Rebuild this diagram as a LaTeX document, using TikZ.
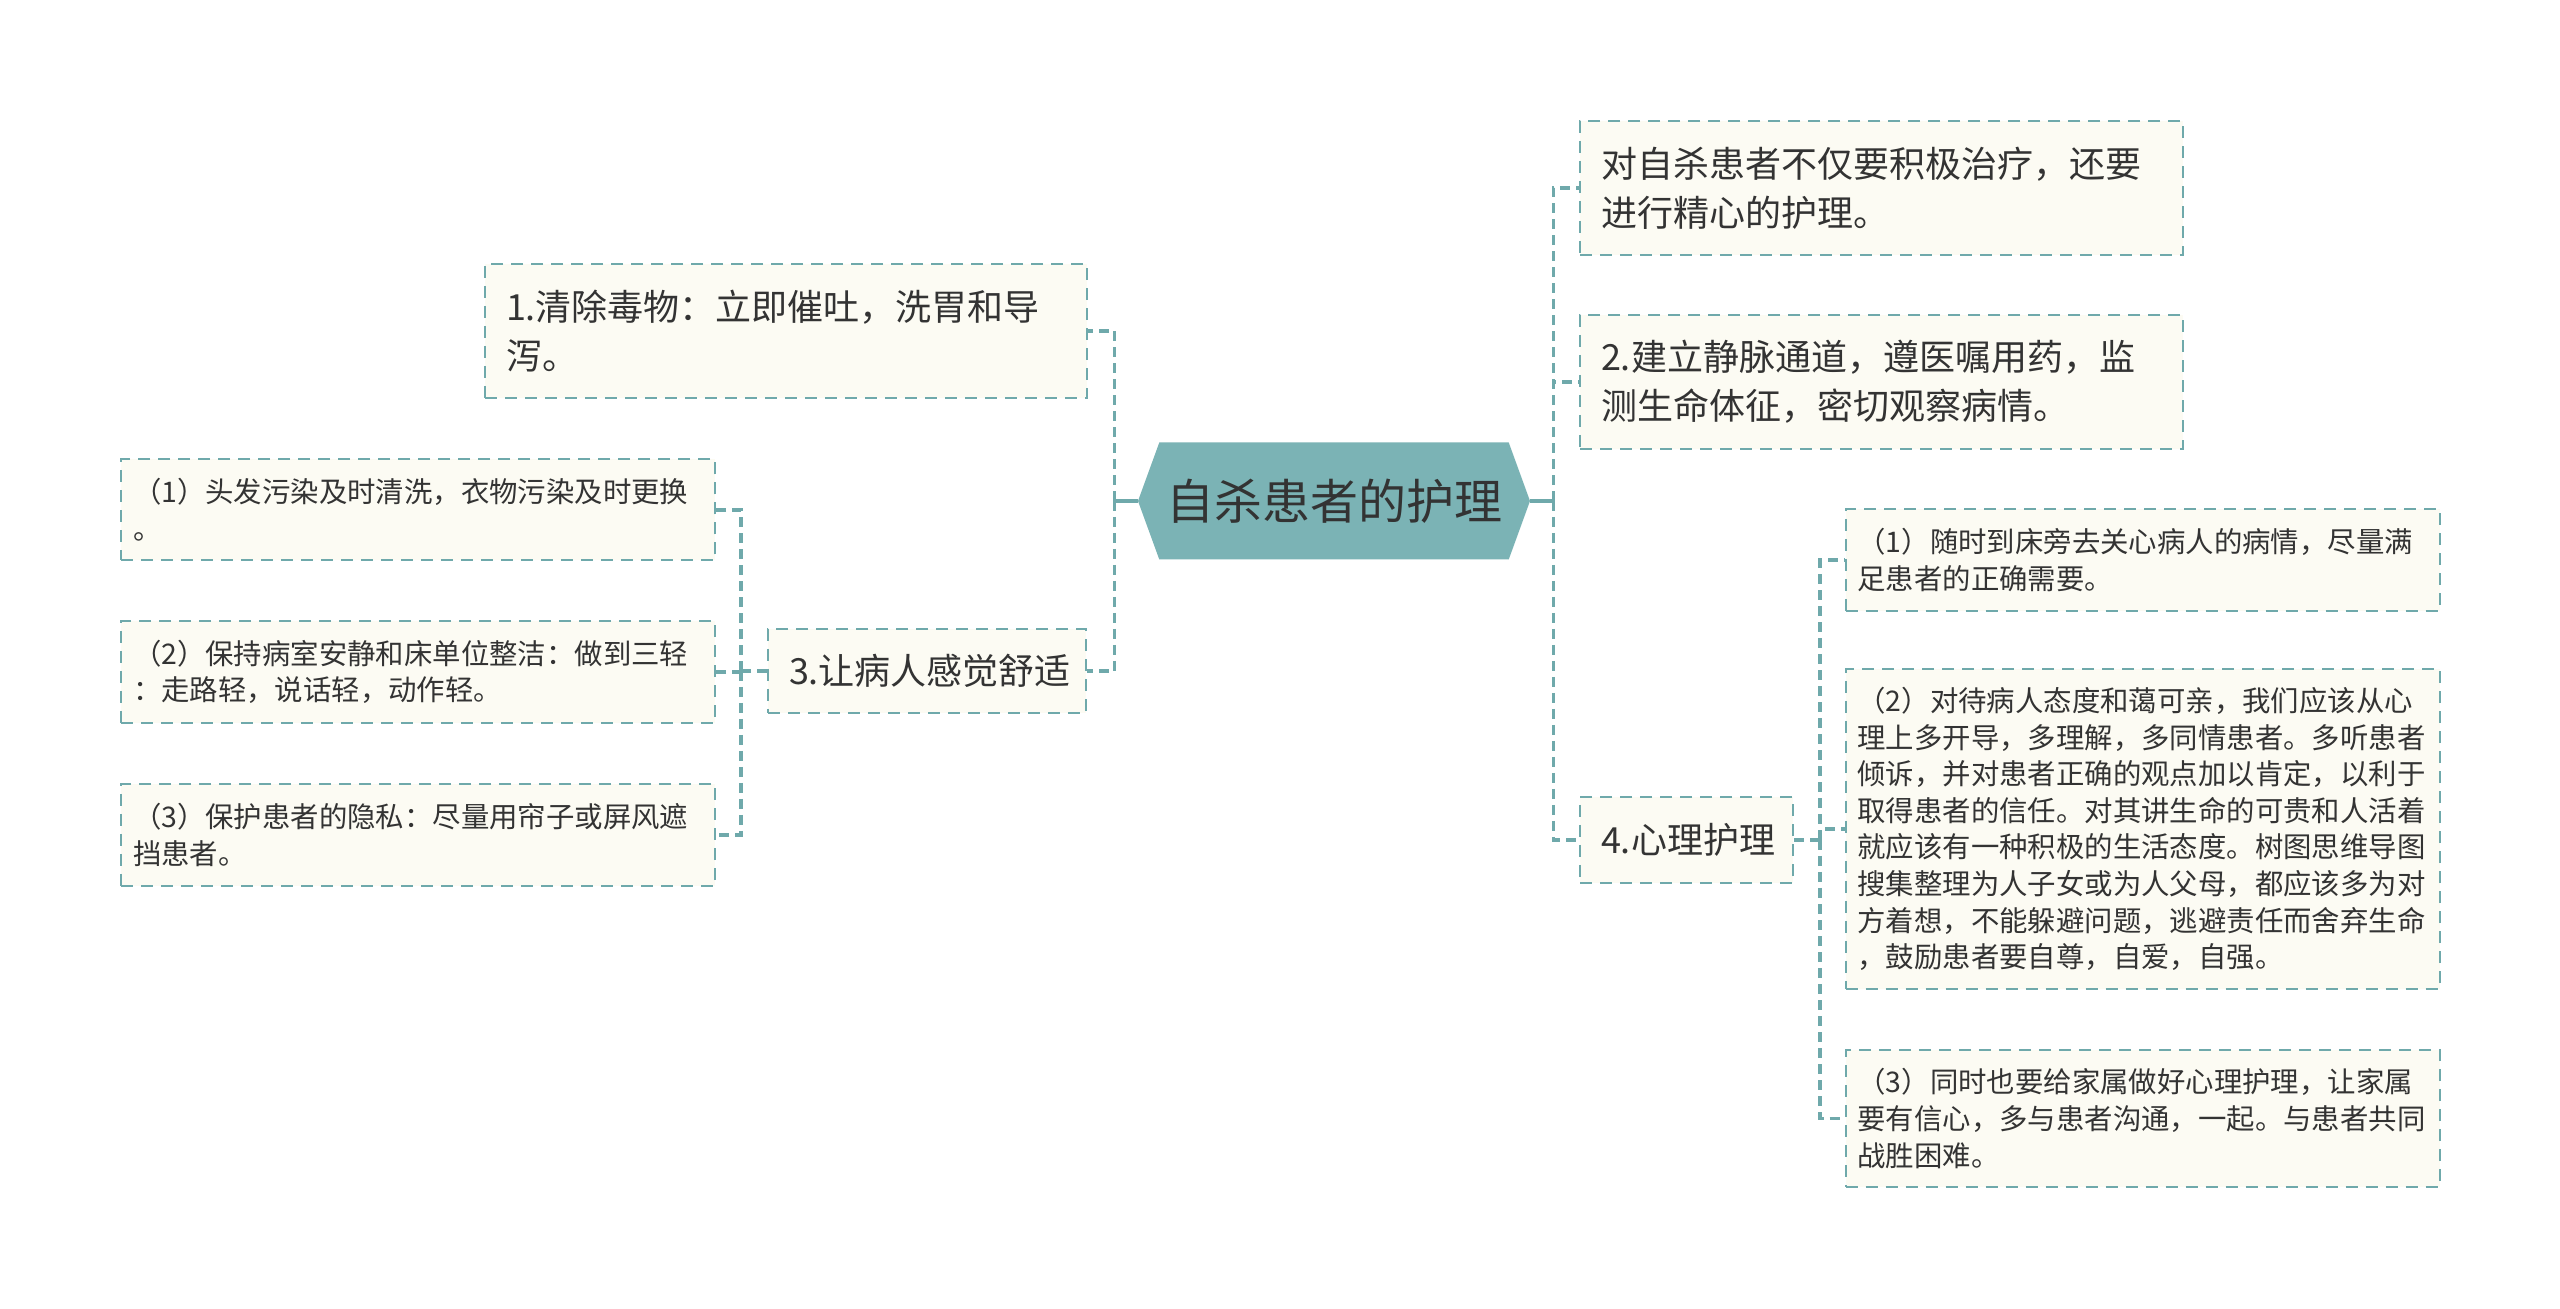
\documentclass[tikz,border=0pt]{standalone}
\usepackage{fontspec}
\setmainfont{Noto Sans CJK SC}
\usetikzlibrary{shapes.symbols}
\definecolor{linecol}{HTML}{6FA9AB}
\definecolor{rootfill}{HTML}{7BB3B5}
\definecolor{boxfill}{HTML}{FCFBF3}
\definecolor{txtcol}{HTML}{333333}

\tikzset{
	topic/.style={draw=linecol, fill=boxfill, line width=1pt, dash pattern=on 6pt off 4pt, text=txtcol, align=left, inner xsep=10.5pt, inner ysep=0pt, font=\fontsize{18}{24.5}\selectfont},
	leaf/.style={topic, inner xsep=6pt, text width=285pt, font=\fontsize{14.2}{18.3}\selectfont},
	link/.style={draw=linecol, line width=1.8pt, dash pattern=on 5pt off 3pt},
	rootlink/.style={draw=linecol, line width=1.8pt},
}

\begin{document}
\begin{tikzpicture}[x=0.5pt,y=-0.5pt]
		\fill[white] (0,0) rectangle (2560,1309);
		\useasboundingbox (0,0) rectangle (2560,1309);
		
		% Root
		\node[shape=signal, signal to=west and east, signal pointer angle=140, fill=rootfill, minimum width=196pt, minimum height=58.5pt, inner sep=0pt, text=txtcol, font=\fontsize{24}{28}\selectfont] (root) at (1334,501) {自杀患者的护理};
		
		% Left branches
		\node[topic, text width=280pt, minimum height=67pt] (clean) at (786,331) {1.清除毒物：立即催吐，洗胃和导\\泻。};
		\node[topic, align=center, text width=138pt, minimum height=42pt] (comfort) at (927,671) {3.让病人感觉舒适};
		\node[leaf, minimum height=50.5pt] (hair) at (418,510) {（1）头发污染及时清洗，衣物污染及时更换\\。};
		\node[leaf, minimum height=51pt] (quiet) at (418,672) {（2）保持病室安静和床单位整洁：做到三轻\\：走路轻，说话轻，动作轻。};
		\node[leaf, minimum height=51pt] (privacy) at (418,835) {（3）保护患者的隐私：尽量用帘子或屏风遮\\挡患者。};
		
		% Right branches
		\node[topic, text width=280.5pt, minimum height=67pt] (intro) at (1881.5,188) {对自杀患者不仅要积极治疗，还要\\进行精心的护理。};
		\node[topic, text width=280.5pt, minimum height=67pt] (vein) at (1881.5,382) {2.建立静脉通道，遵医嘱用药，监\\测生命体征，密切观察病情。};
		\node[topic, align=center, text width=85.5pt, minimum height=43pt] (mind) at (1686.5,840) {4.心理护理};
		\node[leaf, minimum height=51pt] (visit) at (2142.5,560) {（1）随时到床旁去关心病人的病情，尽量满\\足患者的正确需要。};
		\node[leaf, minimum height=160pt] (attitude) at (2142.5,829) {（2）对待病人态度和蔼可亲，我们应该从心\\理上多开导，多理解，多同情患者。多听患者\\倾诉，并对患者正确的观点加以肯定，以利于\\取得患者的信任。对其讲生命的可贵和人活着\\就应该有一种积极的生活态度。树图思维导图\\搜集整理为人子女或为人父母，都应该多为对\\方着想，不能躲避问题，逃避责任而舍弃生命\\，鼓励患者要自尊，自爱，自强。};
		\node[leaf, minimum height=68.5pt] (family) at (2142.5,1118.5) {（3）同时也要给家属做好心理护理，让家属\\要有信心，多与患者沟通，一起。与患者共同\\战胜困难。};
		
		% Connectors
		\draw[rootlink] (root.west) -- ++(-23,0) coordinate (lbus);
		\draw[rootlink] (root.east) -- ++(23,0) coordinate (rbus);
		\draw[link] (lbus) |- (clean.east);
		\draw[link] (lbus) |- (comfort.east);
		\draw[link] (rbus) |- (intro.west);
		\draw[link] (rbus) |- (vein.west);
		\draw[link] (rbus) |- (mind.west);
		\draw[link] (comfort.west) -- ++(-26,0) coordinate (lsub);
		\draw[link] (lsub) |- (hair.east);
		\draw[link] (lsub) |- (quiet.east);
		\draw[link] (lsub) |- (privacy.east);
		\draw[link] (mind.east) -- ++(26,0) coordinate (rsub);
		\draw[link] (rsub) |- (visit.west);
		\draw[link] (rsub) |- (attitude.west);
		\draw[link] (rsub) |- (family.west);
		
		\end{tikzpicture}
\end{document}
